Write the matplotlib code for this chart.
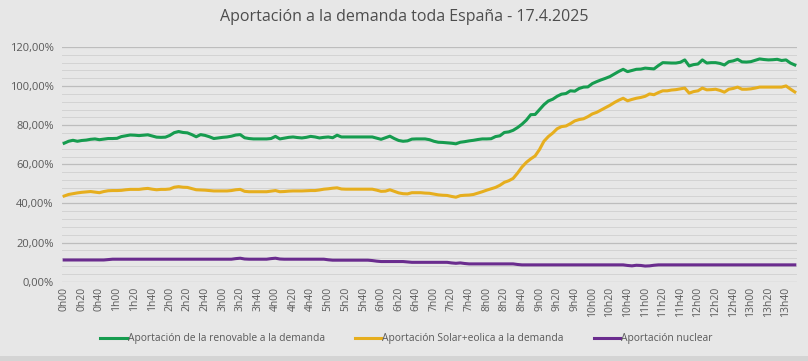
import matplotlib
matplotlib.use("Agg")
import matplotlib.pyplot as plt
from matplotlib.ticker import MultipleLocator, FuncFormatter
from matplotlib.patches import Rectangle

# datos cada 5 minutos, 0h00 - 13h50 (en %)
renovable = [
    70.8, 71.8, 72.3, 71.8, 72.2, 72.4, 72.8, 73.0, 72.6, 72.9,
    73.2, 73.2, 73.3, 74.2, 74.6, 75.0, 74.9, 74.7, 74.9, 75.1,
    74.5, 73.9, 73.8, 73.9, 74.8, 76.2, 76.8, 76.3, 76.1, 75.2,
    74.1, 75.2, 74.8, 74.1, 73.2, 73.5, 73.8, 74.0, 74.4, 75.0,
    75.2, 73.6, 73.2, 73.0, 73.0, 73.0, 73.0, 73.2, 74.3, 73.0,
    73.4, 73.8, 74.0, 73.7, 73.5, 73.8, 74.3, 74.0, 73.5, 73.8,
    74.0, 73.6, 74.9, 74.0, 74.0, 74.0, 74.0, 74.0, 74.0, 74.0,
    74.0, 73.4, 72.8, 73.6, 74.4, 73.2, 72.2, 71.8, 72.0, 72.9,
    73.0, 73.0, 73.0, 72.6, 71.8, 71.3, 71.2, 71.0, 70.8, 70.5,
    71.3, 71.6, 72.0, 72.3, 72.7, 73.0, 73.0, 73.1, 74.2, 74.6,
    76.3, 76.6, 77.4, 78.8, 80.5, 82.6, 85.4, 85.5, 88.0, 90.5,
    92.4, 93.3, 94.8, 95.9, 96.2, 97.6, 97.4, 98.8, 99.5, 99.6,
    101.3, 102.3, 103.2, 104.0, 104.9, 106.2, 107.5, 108.6, 107.4, 108.0,
    108.6, 108.7, 109.2, 109.0, 108.8, 110.5, 112.0, 111.9, 111.8, 111.8,
    112.2, 113.4, 110.3, 111.0, 111.3, 113.4, 111.8, 112.0, 112.0, 111.6,
    110.8, 112.5, 112.9, 113.7, 112.4, 112.3, 112.5, 113.2, 113.9, 113.6,
    113.4, 113.5, 113.7, 113.1, 113.4, 111.8, 110.8,
]

solar_eolica = [
    43.8, 44.6, 45.0, 45.4, 45.7, 45.9, 46.1, 45.8, 45.5, 46.1,
    46.5, 46.6, 46.6, 46.7, 47.0, 47.2, 47.2, 47.2, 47.5, 47.7,
    47.3, 47.0, 47.2, 47.2, 47.4, 48.3, 48.6, 48.3, 48.2, 47.6,
    47.0, 46.9, 46.8, 46.6, 46.4, 46.4, 46.4, 46.4, 46.6, 47.0,
    47.2, 46.2, 46.0, 46.0, 46.0, 46.0, 46.0, 46.3, 46.6, 46.0,
    46.1, 46.3, 46.4, 46.4, 46.4, 46.5, 46.6, 46.6, 46.9, 47.3,
    47.5, 47.8, 48.0, 47.4, 47.3, 47.3, 47.3, 47.3, 47.3, 47.3,
    47.3, 46.8, 46.2, 46.3, 47.0, 46.2, 45.4, 45.0, 44.9, 45.5,
    45.5, 45.5, 45.3, 45.2, 44.8, 44.4, 44.2, 44.1, 43.6, 43.2,
    44.0, 44.2, 44.3, 44.6, 45.3, 46.0, 46.8, 47.5, 48.2, 49.3,
    50.8, 51.6, 52.8, 55.5, 58.6, 61.0, 62.8, 64.3, 67.6, 71.8,
    74.2, 76.0, 78.2, 79.3, 79.6, 80.8, 82.2, 82.9, 83.3, 84.4,
    85.8, 86.6, 87.8, 89.0, 90.2, 91.6, 92.8, 93.8, 92.5, 93.2,
    93.8, 94.2, 94.8, 96.0, 95.6, 96.7, 97.6, 97.6, 98.0, 98.2,
    98.6, 99.0, 96.4, 97.2, 97.6, 99.0, 98.1, 98.2, 98.4, 97.8,
    96.9, 98.4, 98.8, 99.5, 98.4, 98.4, 98.6, 99.0, 99.5, 99.5,
    99.5, 99.5, 99.5, 99.5, 100.1, 98.5, 97.0,
]

nuclear = [
    11.1, 11.1, 11.1, 11.1, 11.1, 11.1, 11.1, 11.1, 11.1, 11.1,
    11.3, 11.5, 11.5, 11.5, 11.5, 11.5, 11.5, 11.5, 11.5, 11.5,
    11.5, 11.5, 11.5, 11.5, 11.5, 11.5, 11.5, 11.5, 11.5, 11.5,
    11.5, 11.5, 11.5, 11.5, 11.5, 11.5, 11.5, 11.5, 11.5, 11.8,
    12.0, 11.6, 11.5, 11.5, 11.5, 11.5, 11.5, 11.8, 12.0, 11.6,
    11.5, 11.5, 11.5, 11.5, 11.5, 11.5, 11.5, 11.5, 11.5, 11.5,
    11.2, 11.0, 11.0, 11.0, 11.0, 11.0, 11.0, 11.0, 11.0, 11.0,
    10.8, 10.5, 10.3, 10.3, 10.3, 10.3, 10.3, 10.3, 10.1, 9.9,
    9.9, 9.9, 9.9, 9.9, 9.9, 9.9, 9.9, 9.9, 9.6, 9.4,
    9.6, 9.3, 9.1, 9.1, 9.1, 9.1, 9.1, 9.1, 9.1, 9.1,
    9.1, 9.1, 9.1, 8.8, 8.6, 8.6, 8.6, 8.6, 8.6, 8.6,
    8.6, 8.6, 8.6, 8.6, 8.6, 8.6, 8.6, 8.6, 8.6, 8.6,
    8.6, 8.6, 8.6, 8.6, 8.6, 8.6, 8.6, 8.6, 8.3, 8.1,
    8.4, 8.3, 8.0, 8.1, 8.4, 8.6, 8.6, 8.6, 8.6, 8.6,
    8.6, 8.6, 8.6, 8.6, 8.6, 8.6, 8.6, 8.6, 8.6, 8.6,
    8.6, 8.6, 8.6, 8.6, 8.6, 8.6, 8.6, 8.6, 8.6, 8.6,
    8.6, 8.6, 8.6, 8.6, 8.6, 8.6, 8.6,
]

etiquetas = [
    "0h00", "0h20", "0h40", "1h00", "1h20", "1h40", "2h00", "2h20", "2h40",
    "3h00", "3h20", "3h40", "4h00", "4h20", "4h40", "5h00", "5h20", "5h40",
    "6h00", "6h20", "6h40", "7h00", "7h20", "7h40", "8h00", "8h20", "8h40",
    "9h00", "9h20", "9h40", "10h00", "10h20", "10h40", "11h00", "11h20",
    "11h40", "12h00", "12h20", "12h40", "13h00", "13h20", "13h40",
]

fondo = "#e7e7e7"
gris_texto = "#595959"
plt.rcParams["font.family"] = ["Open Sans", "DejaVu Sans"]

fig = plt.figure(figsize=(8.08, 3.61), dpi=100, facecolor=fondo)
ax = fig.add_axes([0.0767, 0.2197, 0.9097, 0.6501], facecolor=fondo)

x = list(range(len(renovable)))
ax.plot(x, renovable, color="#169c4f", lw=2.2, label="Aportación de la renovable a la demanda", zorder=3)
ax.plot(x, solar_eolica, color="#e6ae1e", lw=2.2, label="Aportación Solar+eolica a la demanda", zorder=3)
ax.plot(x, nuclear, color="#6a2c8e", lw=2.2, label="Aportación nuclear", zorder=3)

ax.set_ylim(0, 120)
ax.set_xlim(-0.5, len(renovable) - 0.5)
ax.yaxis.set_major_locator(MultipleLocator(20))
ax.yaxis.set_minor_locator(MultipleLocator(4))
ax.yaxis.set_major_formatter(FuncFormatter(lambda v, p: f"{v:.2f}".replace(".", ",") + "%"))
ax.grid(axis="y", which="major", color="#bdbdbd", lw=0.9)
ax.grid(axis="y", which="minor", color="#d3d3d3", lw=0.7)
ax.set_axisbelow(True)

ax.set_xticks(range(0, len(renovable), 4))
ax.set_xticklabels(etiquetas, rotation=90, fontsize=7.5, color=gris_texto)
ax.tick_params(axis="y", labelsize=8, colors=gris_texto, length=0, pad=6)
ax.tick_params(axis="x", length=0, pad=4)
ax.tick_params(axis="y", which="minor", length=0)
for s in ax.spines.values():
    s.set_visible(False)

fig.suptitle("Aportación a la demanda toda España - 17.4.2025", x=0.5, y=0.975,
             fontsize=11.5, color="#4d4d4d")

leg = fig.legend(loc="center", bbox_to_anchor=(0.503, 0.062), ncol=3, frameon=False,
                 fontsize=7.4, handlelength=2.6, handletextpad=0.1, columnspacing=2.9)
for t in leg.get_texts():
    t.set_color(gris_texto)

# franja inferior algo más oscura
fig.patches.append(Rectangle((0, 0), 1, 0.014, transform=fig.transFigure,
                             facecolor="#d4d4d4", edgecolor="none"))

fig.savefig("out.png", dpi=100, facecolor=fondo)
